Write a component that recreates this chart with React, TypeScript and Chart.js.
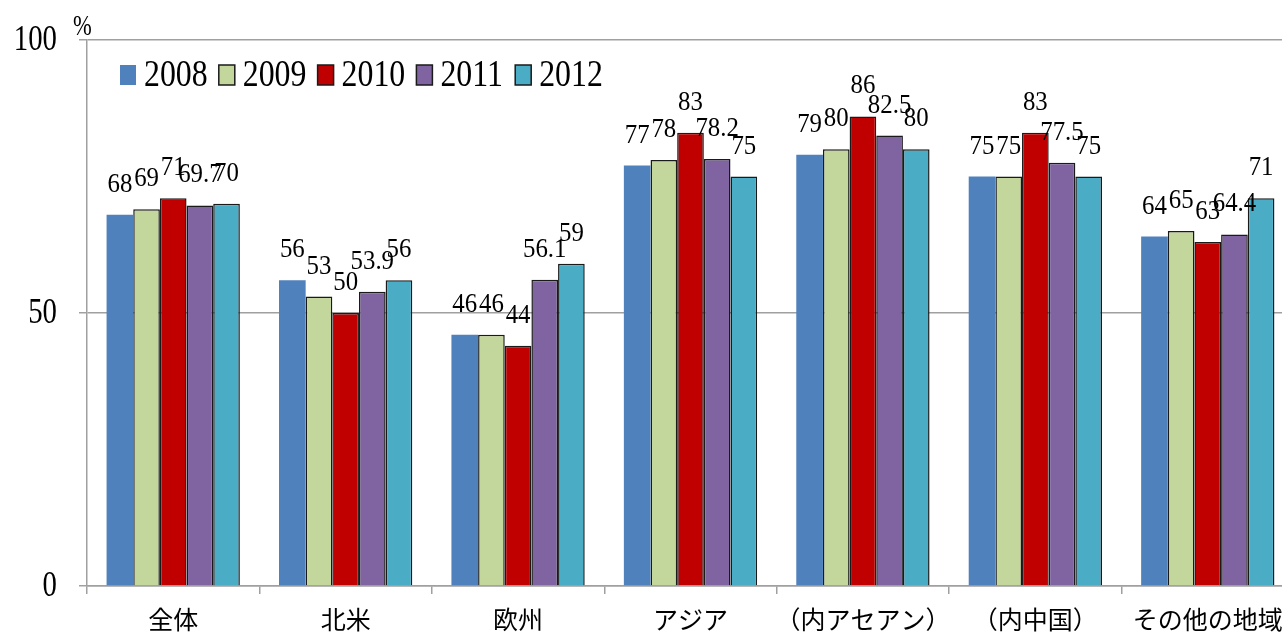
import React, { useEffect, useRef } from 'react';
import { Chart, registerables } from 'chart.js';

Chart.register(...registerables);

const categories = ['全体', '北米', '欧州', 'アジア', '（内アセアン）', '（内中国）', 'その他の地域'];
const years = ['2008', '2009', '2010', '2011', '2012'];
const v2008 = [68, 56, 46, 77, 79, 75, 64];
const v2009 = [69, 53, 46, 78, 80, 75, 65];
const v2010 = [71, 50, 44, 83, 86, 83, 63];
const v2011 = [69.7, 53.9, 56.1, 78.2, 82.5, 77.5, 64.4];
const v2012 = [70, 56, 59, 75, 80, 75, 71];
const yTickValues = [0, 50, 100];
const unitLabel = '%';

const colors = ['#4F81BD', '#C3D69B', '#C00000', '#8064A2', '#4BACC6'];
const borders = [0, 1.5, 1.5, 1.5, 1.5];
const SERIF = '"Liberation Serif", "DejaVu Serif", serif';
const CJK = '"Noto Sans CJK JP", sans-serif';

function condensedText(ctx: any, text: string, x: number, y: number, sx: number, sy: number) {
  ctx.save();
  ctx.translate(x, y);
  ctx.scale(sx, sy);
  ctx.fillText(text, 0, 0);
  ctx.restore();
}

const overlayPlugin = {
  id: 'overlay',
  afterDatasetsDraw(chart: any) {
    const ctx = chart.ctx;
    ctx.save();
    ctx.fillStyle = '#000';
    // y tick labels
    const ys = chart.scales.y;
    ctx.font = `36px ${SERIF}`;
    ctx.textAlign = 'right';
    ctx.textBaseline = 'middle';
    ys.ticks.forEach((t: any) => {
      condensedText(ctx, String(t.value), 57, ys.getPixelForValue(t.value) + 1, 0.8, 1);
    });
    // data labels
    ctx.font = `27px ${SERIF}`;
    ctx.textAlign = 'center';
    ctx.textBaseline = 'alphabetic';
    chart.data.datasets.forEach((ds: any, di: number) => {
      const meta = chart.getDatasetMeta(di);
      meta.data.forEach((el: any, i: number) => {
        condensedText(ctx, String(ds.data[i]), el.x, el.y - 23, 0.92, 1.05);
      });
    });
    // legend
    chart.data.datasets.forEach((ds: any, di: number) => {
      const x = 120 + di * 98.8;
      ctx.fillStyle = ds.backgroundColor;
      ctx.fillRect(x, 65, 16, 20);
      if (ds.borderWidth) {
        ctx.strokeStyle = '#1a1a1a';
        ctx.lineWidth = 1.5;
        ctx.strokeRect(x, 65, 16, 20);
      }
      ctx.fillStyle = '#000';
      ctx.textAlign = 'left';
      ctx.textBaseline = 'middle';
      ctx.font = `37px ${SERIF}`;
      condensedText(ctx, ds.label, x + 24, 76, 0.86, 1);
    });
    // unit
    ctx.font = `30px ${SERIF}`;
    ctx.textAlign = 'left';
    ctx.textBaseline = 'middle';
    condensedText(ctx, unitLabel, 73, 27, 0.75, 1);
    ctx.restore();
  },
};

export default function App() {
  const ref = useRef<HTMLCanvasElement>(null);
  useEffect(() => {
    if (!ref.current) return;
    const series = [v2008, v2009, v2010, v2011, v2012];
    const chart = new Chart(ref.current, {
      type: 'bar',
      data: {
        labels: categories,
        datasets: years.map((y, i) => ({
          label: y,
          data: series[i],
          backgroundColor: colors[i],
          borderColor: '#1a1a1a',
          borderWidth: borders[i],
          borderSkipped: 'bottom',
          barPercentage: 1,
          categoryPercentage: 0.773,
        })),
      },
      options: {
        responsive: false,
        animation: false,
        layout: { padding: { top: 40, left: 0, right: 0, bottom: 0 } },
        plugins: { legend: { display: false }, tooltip: { enabled: false } },
        scales: {
          x: {
            offset: true,
            grid: {
              offset: true,
              drawOnChartArea: false,
              drawTicks: true,
              tickLength: 8,
              color: '#A0A0A0',
              lineWidth: 1.5,
            },
            border: { color: '#A0A0A0', width: 1.5 },
            ticks: {
              font: { family: CJK, size: 25 },
              color: '#000',
              padding: 10,
              maxRotation: 0,
              autoSkip: false,
            },
            afterFit: (s: any) => {
              s.height = 47;
            },
          },
          y: {
            min: 0,
            max: 100,
            afterBuildTicks: (s: any) => {
              s.ticks = yTickValues.map((v) => ({ value: v }));
            },
            ticks: {
              font: { family: SERIF, size: 30 },
              color: 'rgba(0,0,0,0)',
              padding: 17,
            },
            grid: { color: '#A0A0A0', lineWidth: 1.5, tickLength: 8, drawTicks: true },
            border: { color: '#A0A0A0', width: 1.5 },
            afterFit: (s: any) => {
              s.width = 87;
            },
          },
        },
      },
      plugins: [overlayPlugin],
    });
    return () => chart.destroy();
  }, []);
  return (
    <div style={{ position: 'fixed', left: 0, top: 0, width: 1282, height: 633, overflow: 'hidden', background: '#fff' }}>
      <canvas ref={ref} width={1294} height={633} style={{ width: 1294, height: 633, display: 'block' }} />
    </div>
  );
}
